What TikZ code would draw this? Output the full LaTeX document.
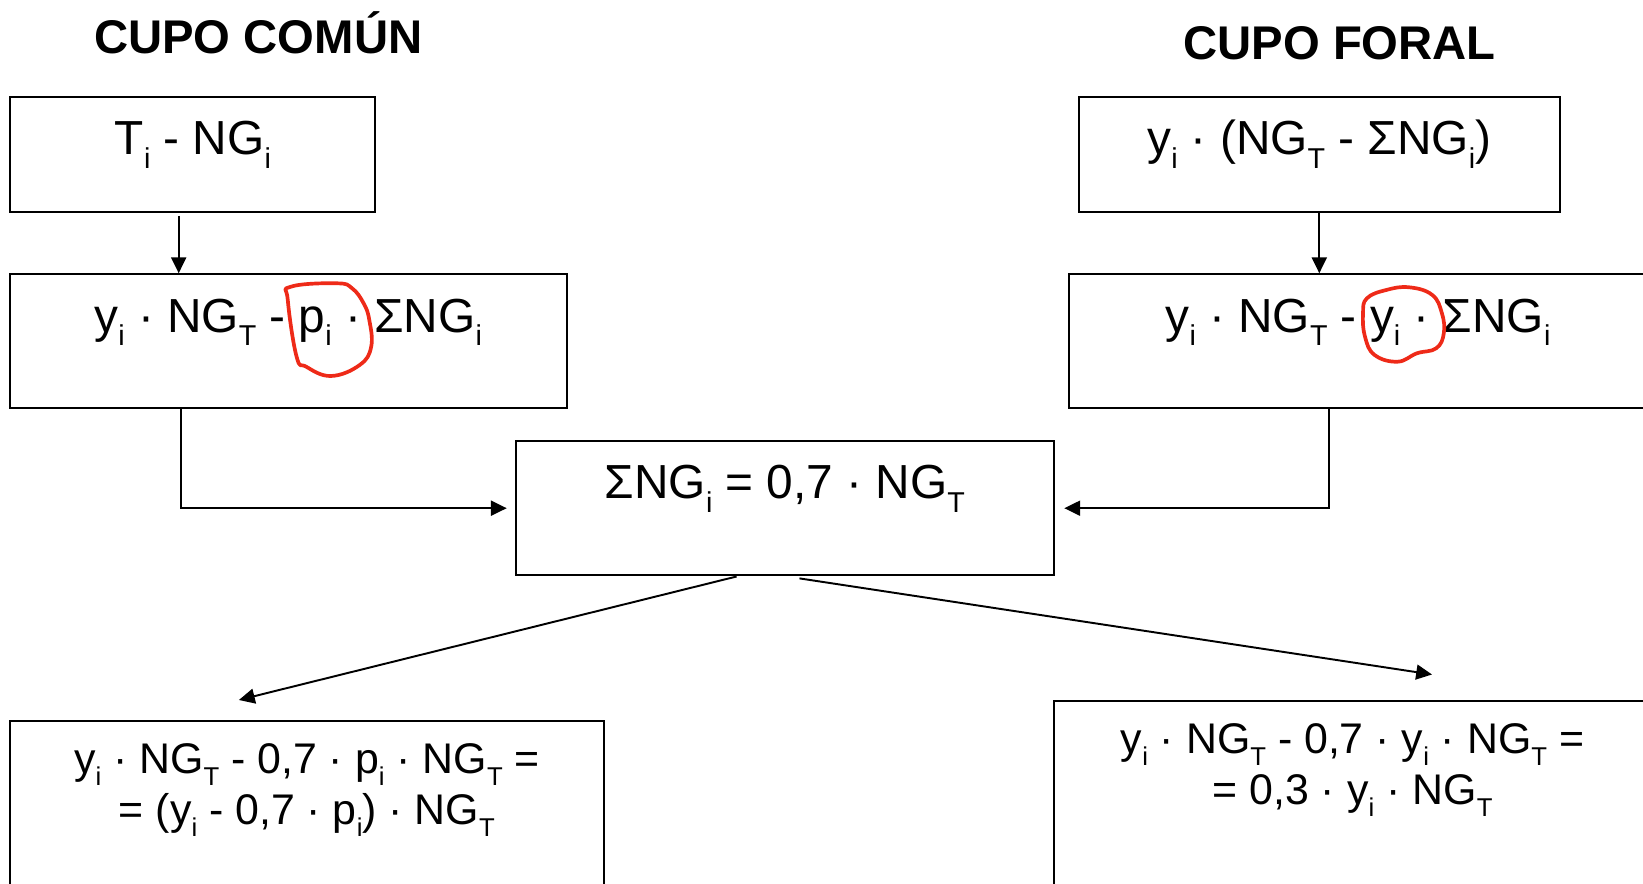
\documentclass[tikz,border=0pt]{standalone}
\usepackage{fontspec}
\setmainfont{Liberation Sans}
\usepackage{graphicx}
\usetikzlibrary{arrows.meta,calc}
\definecolor{penred}{RGB}{238,42,24}
\newcommand{\sub}[1]{\raisebox{-0.28em}{\scalebox{0.6}{#1}}}
\newcommand{\boxfont}{\fontsize{27.2}{32.6}\selectfont}
\newcommand{\lowfont}{\fontsize{24.4}{29.3}\selectfont}
\tikzset{
  box/.style={draw,line width=1.2pt,inner sep=0pt,align=center,text height=1.16cm},
  head/.style={font=\fontsize{26.9}{32}\selectfont\bfseries,anchor=base},
  arr/.style={line width=1.1pt,-{Triangle[length=9pt,width=8.5pt]}},
  redloop/.style={draw=penred,line width=2.1pt,line join=round}
}

\begin{document}
\begin{tikzpicture}[x=0.02cm,y=-0.02cm]
    \useasboundingbox (0,0) rectangle (1643,884);

    % -- Titles --
    \node[head] (tcom) at (258.3,53.3) {CUPO COMÚN};
    \node[head] (tfor) at (1339.6,60) {CUPO FORAL};

    % -- Left column --
    \node[box,font=\boxfont,minimum width=7.30cm,text depth=1.15cm] (com1) at (192.9,154.4)
      {T\sub{i} - NG\sub{i}};
    \node[box,font=\boxfont,minimum width=11.14cm,text depth=1.52cm] (com2) at (288.2,341.3)
      {y\sub{i} · NG\sub{T} - p\sub{i} · ΣNG\sub{i}};

    % -- Right column --
    \node[box,font=\boxfont,minimum width=9.63cm,text depth=1.15cm] (for1) at (1319.3,154.4)
      {y\sub{i} · (NG\sub{T} - ΣNG\sub{i})};
    \node[box,font=\boxfont,minimum width=11.57cm,text depth=1.52cm] (for2) at (1358,341.3)
      {y\sub{i} · NG\sub{T} - y\sub{i} · ΣNG\sub{i}};

    % -- Common condition in the middle --
    \node[box,font=\boxfont,minimum width=10.77cm,text depth=1.53cm] (mid) at (784.9,508.2)
      {ΣNG\sub{i} = 0,7 · NG\sub{T}};

    % -- Results at the bottom (two lines, base is the last one) --
    \node[box,font=\lowfont,minimum width=11.88cm,text height=2.07cm,text depth=1.93cm] (bl) at (306.9,821)
      {y\sub{i} · NG\sub{T} - 0,7 · p\sub{i} · NG\sub{T} =\\ = (y\sub{i} - 0,7 · p\sub{i}) · NG\sub{T}};
    \node[box,font=\lowfont,minimum width=11.96cm,text height=2.07cm,text depth=1.93cm] (br) at (1352.5,801)
      {y\sub{i} · NG\sub{T} - 0,7 · y\sub{i} · NG\sub{T} =\\ = 0,3 · y\sub{i} · NG\sub{T}};

    % -- Arrows --
    \coordinate (c1) at (178.7,216);
    \draw[arr] (c1) -- (c1 |- com2.north);
    \draw[arr] (for1.south) -- (for1.south |- for2.north);

    \coordinate (c2) at (181,0);
    \draw[arr,shorten >=4.5pt] (com2.south -| c2) |- (mid.west);
    \coordinate (c3) at (1328.6,0);
    \draw[arr,shorten >=5.2pt] (for2.south -| c3) |- (mid.east);

    \coordinate (c4) at (736.6,0);
    \coordinate (blin) at (238.9,700);
    \draw[arr] (mid.south -| c4) -- (blin);
    \coordinate (c5) at (799.5,578.4);
    \coordinate (brin) at (1432,674.5);
    \draw[arr] (c5) -- (brin);

    % -- Hand drawn red loops --
    \draw[redloop] plot[smooth cycle,tension=0.7] coordinates {(290.9,286.7) (336.8,283.3)
      (352.1,288.3) (363.6,303.3) (369.3,320) (371.2,346.7) (359.7,365) (331,376)
      (306.2,366.7) (296.6,356.7) (287.8,300)};
    \draw[redloop] plot[smooth cycle,tension=0.7] coordinates {(1366.9,298.3) (1386.2,290)
      (1409.2,287.3) (1432.3,295) (1441.9,313.3) (1443.8,333.3) (1436.2,348.3)
      (1416.9,353.3) (1397.7,361.7) (1374.6,355) (1365,336.7) (1363,313.3)};

\end{tikzpicture}
\end{document}
